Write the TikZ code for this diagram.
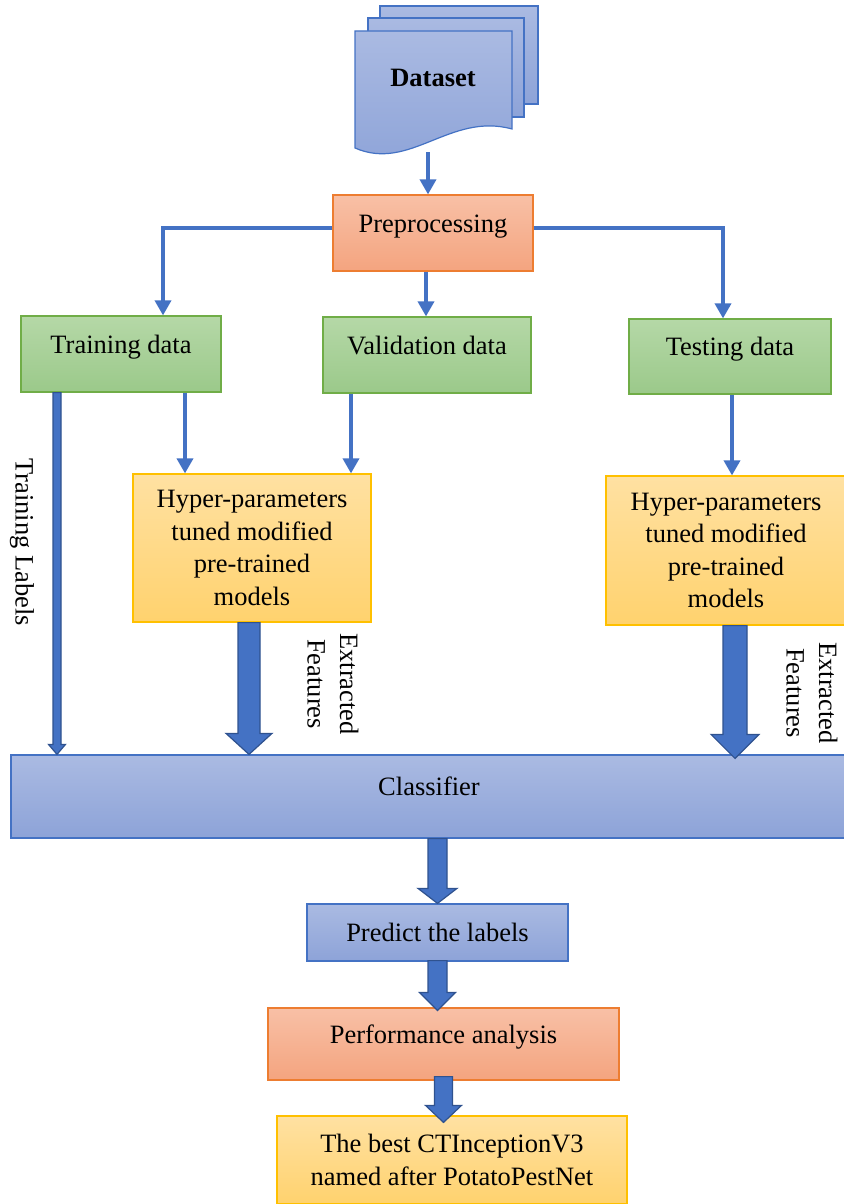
\documentclass[tikz,border=0pt]{standalone}
\usepackage{fontspec}
\setmainfont{Liberation Serif}
\usetikzlibrary{arrows.meta,calc}

\definecolor{lineblue}{HTML}{4472C4}
\definecolor{darkblue}{HTML}{2F528F}
\definecolor{bluetop}{HTML}{AABAE2}
\definecolor{bluebot}{HTML}{8DA3D8}
\definecolor{redtop}{HTML}{F8C0A6}
\definecolor{redbot}{HTML}{F4A47F}
\definecolor{redline}{HTML}{ED7D31}
\definecolor{greentop}{HTML}{B5D8A7}
\definecolor{greenbot}{HTML}{9BC98A}
\definecolor{greenline}{HTML}{70AD47}
\definecolor{yellowtop}{HTML}{FFE1A2}
\definecolor{yellowbot}{HTML}{FFD26E}
\definecolor{yellowline}{HTML}{FFC000}

% block arrow: start, end, half shaft, half head, head length
\newcommand{\blockarrow}[5]{%
  \path[fatarrow] let \p1=(#1), \p2=(#2) in
    (\x1-#3,\y1) -- (\x1+#3,\y1) -- (\x1+#3,\y2+#5) -- (\x1+#4,\y2+#5)
    -- (\x1,\y2) -- (\x1-#4,\y2+#5) -- (\x1-#3,\y2+#5) -- cycle;}

\begin{document}
\begin{tikzpicture}[
		x=1pt, y=-1pt,
		>={Triangle[width=16pt,length=15pt]},
		font=\fontsize{26.5}{32.5}\selectfont,
		every node/.style={inner sep=0pt, align=center},
		arr/.style={->, draw=lineblue, line width=3.5pt},
		fatarrow/.style={fill=lineblue, draw=darkblue, line width=1.2pt, line join=miter},
		page/.style={top color=bluetop, bottom color=bluebot, draw=lineblue, line width=1.2pt},
		bluebox/.style={top color=bluetop, bottom color=bluebot, draw=lineblue, line width=1.2pt},
		redbox/.style={top color=redtop, bottom color=redbot, draw=redline, line width=1.2pt},
		greenbox/.style={top color=greentop, bottom color=greenbot, draw=greenline, line width=1.2pt},
		yellowbox/.style={top color=yellowtop, bottom color=yellowbot, draw=yellowline, line width=1.2pt},
		uptext/.style={text height=18pt, text depth=20pt}
	]

		\useasboundingbox (0,0) rectangle (843,1204);

		% Dataset pages
		\path[page] (380,6) rectangle (538,104);
		\path[page] (368,18) rectangle (524,117);
		\path[page] (355,31) -- (512,31) -- (512,129)
			.. controls (450,112) and (410,172) .. (355,148) -- cycle;
		\node[font=\fontsize{26.5}{32.5}\selectfont\bfseries] (data) at (433,78) {Dataset};
		\coordinate (dataout) at (428,152);

		% Boxes
		\node[redbox, uptext, minimum width=200, minimum height=76] (prep) at (433,233) {Preprocessing};
		\node[greenbox, uptext, minimum width=200, minimum height=76] (train) at (121,354) {Training data};
		\node[greenbox, uptext, minimum width=208, minimum height=76] (valid) at (427,355) {Validation data};
		\node[greenbox, uptext, minimum width=202, minimum height=75] (test) at (730,356.5) {Testing data};
		\node[yellowbox, minimum width=238, minimum height=148] (hp1) at (252,548)
			{Hyper-parameters\\tuned modified\\pre-trained\\models};
		\node[yellowbox, minimum width=240, minimum height=149] (hp2) at (726,550.5)
			{Hyper-parameters\\tuned modified\\pre-trained\\models};
		\node[bluebox, uptext, minimum width=836, minimum height=83] (cls) at (429,796.5) {Classifier};
		\node[bluebox, minimum width=261, minimum height=57] (pred) at (437.5,932.5) {Predict the labels};
		\node[redbox, uptext, minimum width=351, minimum height=72] (perf) at (443.5,1044) {Performance analysis};
		\node[yellowbox, minimum width=350, minimum height=88] (best) at (452,1160)
			{The best CTInceptionV3\\named after PotatoPestNet};

		% Labels
		\node[rotate=-90] (trlab) at (22,542) {Training Labels};
		\node[rotate=-90] (feat1) at (333,684) {Extracted\\Features};
		\node[rotate=-90] (feat2) at (812,693) {Extracted\\Features};

		% Thin arrows
		\draw[arr] (dataout) -- (dataout |- prep.north);
		\draw[arr] ([yshift=5pt]prep.west) -| ([xshift=42pt]train.north);
		\draw[arr] ([yshift=5pt]prep.east) -| ([xshift=-7pt]test.north);
		\draw[arr] ([xshift=-7pt]prep.south) -- ([xshift=-7pt]prep.south |- valid.north);
		\draw[arr] ([xshift=64pt]train.south) -- ([xshift=64pt]train.south |- hp1.north);
		\draw[arr] ([xshift=-76pt]valid.south) -- ([xshift=-76pt]valid.south |- hp1.north);
		\draw[arr] ([xshift=2pt]test.south) -- ([xshift=2pt]test.south |- hp2.north);

		% Block arrows
		\blockarrow{[xshift=-64pt]train.south}{cls.north}{4pt}{8.5pt}{10pt}
		\blockarrow{[xshift=-3pt]hp1.south}{cls.north}{11pt}{23pt}{21pt}
		\blockarrow{[xshift=9pt]hp2.south}{[yshift=-4pt]cls.north}{12pt}{24pt}{24pt}
		\blockarrow{[xshift=8.5pt]cls.south}{pred.north}{9.5pt}{19.5pt}{15pt}
		\blockarrow{[yshift=1pt]pred.south}{[yshift=-3pt]perf.north}{9.5pt}{18pt}{18pt}
		\blockarrow{[yshift=4pt]perf.south}{[yshift=-7pt]best.north}{9pt}{18pt}{17pt}
	\end{tikzpicture}
\end{document}
